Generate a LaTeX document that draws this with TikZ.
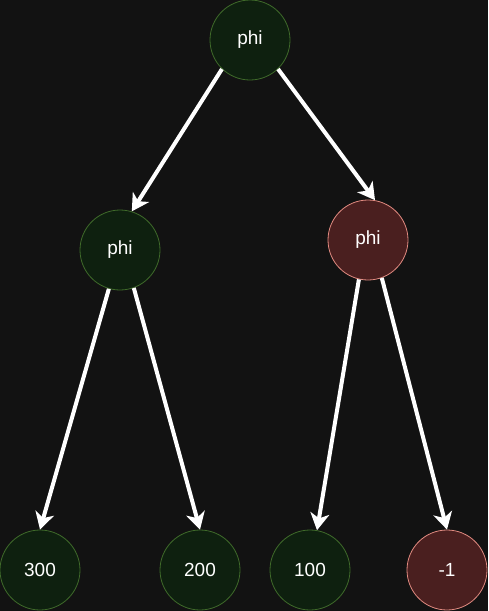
\documentclass[tikz,border=0pt]{standalone}
\usepackage{fontspec}
\setmainfont{Liberation Sans}
\usetikzlibrary{positioning, arrows.meta}

\definecolor{bg}{HTML}{121212}
\definecolor{okfill}{HTML}{0E200F}
\definecolor{okline}{HTML}{3F6A2A}
\definecolor{badfill}{HTML}{4A1F1F}
\definecolor{badline}{HTML}{E08A80}

\begin{document}
\begin{tikzpicture}[>={Stealth[length=17pt, width=19pt, inset=5pt]}, on grid,
    vertex/.style={circle, minimum size=80pt, inner sep=0pt, line width=0.8pt, text=white, font=\fontsize{19}{22}\selectfont},
    okvertex/.style={vertex, draw=okline, fill=okfill},
    badvertex/.style={vertex, draw=badline, fill=badfill}]
        \fill[bg] (0,0) rectangle (488pt,-611pt);
        \useasboundingbox (0,0) rectangle (488pt,-611pt);

        \node[okvertex] (phi0) at (250pt,-40pt) {phi};
        \node[okvertex] (phi1) [below left=210pt and 130pt of phi0] {phi};
        \node[badvertex] (phi2) [below right=200pt and 118pt of phi0] {phi};
        \node[okvertex] (v300) [below left=320pt and 80pt of phi1] {300};
        \node[okvertex] (v200) [below right=320pt and 80pt of phi1] {200};
        \node[okvertex] (v100) [below left=330pt and 58pt of phi2] {100};
        \node[badvertex] (vneg) [below right=330pt and 79pt of phi2] {-1};

        \path[->, white, line width=4pt]
        % From the root
        (phi0.226) edge (phi1.73)
        (phi0.314) edge (phi2.80)

        % From the left phi
        (phi1.254) edge (v300.north)
        (phi1.290) edge (v200.north)

        % From the right phi
        (phi2.257) edge (v100.80)
        (phi2.290) edge (vneg.north);
    \end{tikzpicture}
\end{document}
